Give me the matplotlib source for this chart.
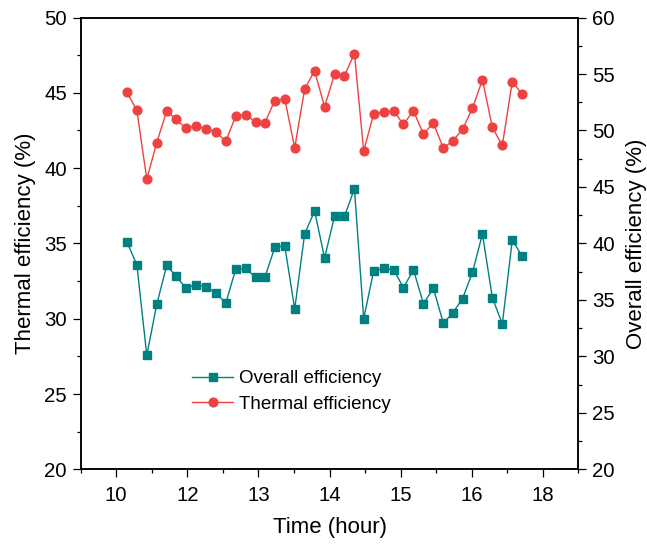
import matplotlib
matplotlib.use("Agg")
import matplotlib.pyplot as plt
from matplotlib.ticker import MultipleLocator

plt.rcParams['font.family'] = ['Liberation Sans', 'DejaVu Sans']

# x positions in tick units (tick i carries label tick_labels[i])
tick_labels = ['10', '12', '13', '14', '15', '16', '18']
x = [0.15, 0.29, 0.43, 0.57, 0.71, 0.84, 0.98, 1.12, 1.26, 1.40,
     1.54, 1.68, 1.82, 1.96, 2.09, 2.23, 2.37, 2.51, 2.65, 2.79,
     2.93, 3.07, 3.21, 3.35, 3.48, 3.62, 3.76, 3.90, 4.04, 4.18,
     4.32, 4.46, 4.60, 4.73, 4.87, 5.01, 5.15, 5.29, 5.43, 5.57, 5.71]

thermal = [45.04, 43.83, 39.27, 41.70, 43.80, 43.23, 42.65, 42.79, 42.61, 42.43,
           41.77, 43.45, 43.56, 43.05, 43.01, 44.49, 44.60, 41.35, 45.26, 46.46,
           44.07, 46.24, 46.15, 47.61, 41.13, 43.60, 43.74, 43.78, 42.92, 43.80,
           42.26, 42.99, 41.33, 41.79, 42.57, 43.98, 45.86, 42.70, 41.51, 45.75, 44.89]

overall = [40.12, 38.11, 30.09, 34.61, 38.05, 37.11, 36.03, 36.35, 36.13, 35.64,
           34.69, 37.71, 37.79, 37.00, 37.00, 39.65, 39.79, 34.19, 40.85, 42.87,
           38.71, 42.41, 42.41, 44.84, 33.33, 37.56, 37.79, 37.67, 36.08, 37.67,
           34.67, 36.03, 32.95, 33.81, 35.11, 37.44, 40.83, 35.19, 32.87, 40.32, 38.85]

red = '#ee4242'
teal = '#008080'

fig = plt.figure(figsize=(6.47, 5.48), dpi=100)
ax = fig.add_axes([0.1247, 0.1436, 0.7693, 0.8244])
ax2 = ax.twinx()

l1, = ax.plot(x, thermal, '-o', color=red, lw=1, ms=6.3, label='Thermal efficiency')
l2, = ax2.plot(x, overall, '-s', color=teal, lw=1, ms=5.3, label='Overall efficiency')

ax.set_xlim(-0.5, 6.5)
ax.set_ylim(20, 50)
ax2.set_ylim(20, 60)
ax.set_xticks(range(len(tick_labels)))
ax.set_xticklabels(tick_labels)
ax.xaxis.set_minor_locator(MultipleLocator(0.5))
ax.yaxis.set_major_locator(MultipleLocator(5))
ax.yaxis.set_minor_locator(MultipleLocator(2.5))
ax2.yaxis.set_major_locator(MultipleLocator(5))
ax2.yaxis.set_minor_locator(MultipleLocator(2.5))

for a in (ax, ax2):
    a.tick_params(which='major', direction='out', length=6, width=0.9, labelsize=14.7, pad=4)
    a.tick_params(which='minor', direction='out', length=3, width=0.9)
    for s in a.spines.values():
        s.set_linewidth(1.1)
ax.tick_params(axis='x', which='major', pad=6)

ax.set_xlabel('Time (hour)', fontsize=16, labelpad=9)
ax.set_ylabel('Thermal efficiency (%)', fontsize=16, labelpad=6)
ax2.set_ylabel('Overall efficiency (%)', fontsize=16, labelpad=8)

ax.legend([l2, l1], ['Overall efficiency', 'Thermal efficiency'], frameon=False,
          loc='center left', bbox_to_anchor=(0.224, 0.172), fontsize=13.5,
          borderpad=0, borderaxespad=0, handlelength=2.2, handletextpad=0.3,
          labelspacing=0.45)

fig.savefig('out.png', dpi=100)
